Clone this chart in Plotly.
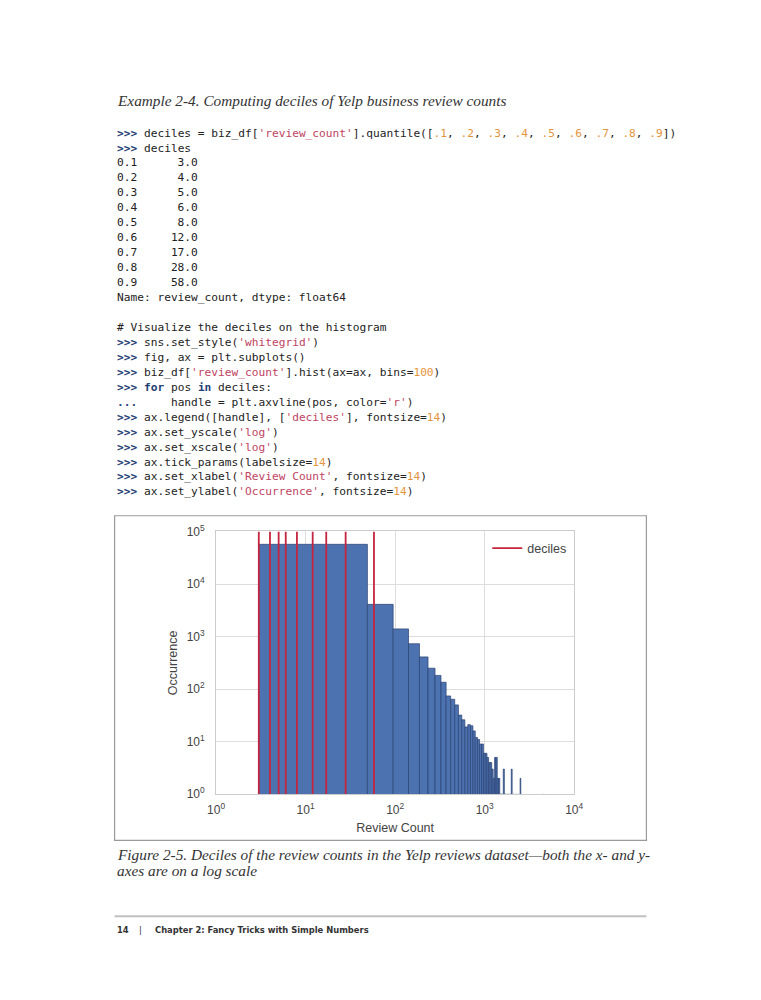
import numpy as np
import plotly.graph_objects as go

# --- data ---------------------------------------------------------------
# histogram of biz_df['review_count'] with bins=100 (linear bins from min to max)
review_min = 3
review_max = 4603
bin_counts = [
    57000, 4100, 1400, 730, 410, 250, 182, 135, 74, 64,
    50, 32, 26, 19, 21, 20, 16, 12, 11, 9,
    9, 6, 6, 5, 4, 4, 3, 2, 5, 5,
    2, 2, 1, 1, 1, 3, 1, 1, 0, 1,
    1, 0, 1, 3, 0, 1, 0, 0, 1, 0,
    0, 1, 0, 0, 2, 0, 0, 0, 0, 0,
    0, 0, 0, 0, 0, 0, 0, 0, 0, 0,
    0, 0, 0, 0, 0, 0, 0, 0, 0, 0,
    0, 0, 0, 0, 0, 0, 0, 0, 0, 0,
    0, 0, 0, 0, 0, 0, 0, 0, 0, 1,
]

decile_levels = [0.1, 0.2, 0.3, 0.4, 0.5, 0.6, 0.7, 0.8, 0.9]
deciles = [3.0, 4.0, 5.0, 6.0, 8.0, 12.0, 17.0, 28.0, 58.0]

x_tick_vals = [1, 10, 100, 1000, 10000]
x_tick_text = ['10<sup>0</sup>', '10<sup>1</sup>', '10<sup>2</sup>', '10<sup>3</sup>', '10<sup>4</sup>']
y_tick_vals = [1, 10, 100, 1000, 10000, 100000]
y_tick_text = ['10<sup>0</sup>', '10<sup>1</sup>', '10<sup>2</sup>', '10<sup>3</sup>',
               '10<sup>4</sup>', '10<sup>5</sup>']

# --- page geometry (pixels of the 761x1000 page) -------------------------
# the html body has an 8px margin, so the figure is a bit smaller and
# every page position is shifted by that margin
PAGE_W, PAGE_H = 761, 1000
MARGIN = 8
W, H = PAGE_W - 2 * MARGIN, PAGE_H - 2 * MARGIN
LEFT, RIGHT = 108, 653


def px(x):
    return (x - MARGIN) / W


def py(y):
    return 1 - (y - MARGIN) / H


# --- code listing -------------------------------------------------------
PROMPT = '#1f3f75'
STR = '#c04462'
NUM = '#e3953d'
TXT = '#222222'


def seg(text, color=TXT, bold=False):
    t = text.replace('&', '&amp;').replace('<', '&lt;').replace('>', '&gt;')
    t = t.replace(' ', '\u00a0')
    t = '<span style="color:%s">%s</span>' % (color, t)
    if bold:
        t = '<b>' + t + '</b>'
    return t


def line(*parts):
    return ''.join(seg(*p) if isinstance(p, tuple) else seg(p) for p in parts)


P = ('>>>', PROMPT, True)
code_lines = []
q = [P, " deciles = biz_df[", ("'review_count'", STR), "].quantile(["]
for i, lv in enumerate(decile_levels):
    q.append(('.%d' % round(lv * 10), NUM))
    if i < len(decile_levels) - 1:
        q.append(', ')
q.append('])')
code_lines.append(line(*q))
code_lines.append(line(P, ' deciles'))
for lv, d in zip(decile_levels, deciles):
    code_lines.append(line('%.1f  %7.1f' % (lv, d)))
code_lines.append(line('Name: review_count, dtype: float64'))
code_lines.append('')
code_lines.append(line('# Visualize the deciles on the histogram'))
code_lines.append(line(P, ' sns.set_style(', ("'whitegrid'", STR), ')'))
code_lines.append(line(P, ' fig, ax = plt.subplots()'))
code_lines.append(line(P, ' biz_df[', ("'review_count'", STR), '].hist(ax=ax, bins=',
                       ('100', NUM), ')'))
code_lines.append(line(P, ' ', ('for', PROMPT, True), ' pos ', ('in', PROMPT, True), ' deciles:'))
code_lines.append(line(('...', PROMPT, True), '     handle = plt.axvline(pos, color=', ("'r'", STR), ')'))
code_lines.append(line(P, ' ax.legend([handle], [', ("'deciles'", STR), '], fontsize=',
                       ('14', NUM), ')'))
code_lines.append(line(P, ' ax.set_yscale(', ("'log'", STR), ')'))
code_lines.append(line(P, ' ax.set_xscale(', ("'log'", STR), ')'))
code_lines.append(line(P, ' ax.tick_params(labelsize=', ('14', NUM), ')'))
code_lines.append(line(P, ' ax.set_xlabel(', ("'Review Count'", STR), ', fontsize=',
                       ('14', NUM), ')'))
code_lines.append(line(P, ' ax.set_ylabel(', ("'Occurrence'", STR), ', fontsize=',
                       ('14', NUM), ')'))

# --- figure -------------------------------------------------------------
edges = np.linspace(review_min, review_max, len(bin_counts) + 1)
centers = (edges[:-1] + edges[1:]) / 2
widths = np.diff(edges)

fig = go.Figure()
fig.add_trace(go.Bar(
    x=centers, y=bin_counts, width=widths,
    marker=dict(color='#4C72B0', line=dict(color='#2b4272', width=0.7)),
    showlegend=False,
))

vx, vy = [], []
for d in deciles:
    vx += [d, d, None]
    vy += [y_tick_vals[0], y_tick_vals[-1], None]
fig.add_trace(go.Scatter(
    x=vx, y=vy, mode='lines', name='deciles',
    line=dict(color='#c4263f', width=1.8),
))

sans = 'Liberation Sans, Arial, sans-serif'
axis_font = dict(family=sans, size=12, color='#444')
fig.update_xaxes(
    type='log', range=[0, 4], domain=[px(212), px(579)],
    tickvals=x_tick_vals, ticktext=x_tick_text, tickfont=axis_font,
    showgrid=True, gridcolor='#dddddd', gridwidth=1,
    showline=True, mirror=True, linecolor='#cccccc', linewidth=1,
    zeroline=False, ticks='', ticklabelstandoff=4,
    title=dict(text='Review Count', font=dict(family=sans, size=12.5, color='#444'), standoff=7),
)
fig.update_yaxes(
    type='log', range=[0, 5], domain=[py(798), py(531)],
    tickvals=y_tick_vals, ticktext=y_tick_text, tickfont=axis_font,
    showgrid=True, gridcolor='#dddddd', gridwidth=1,
    showline=True, mirror=True, linecolor='#cccccc', linewidth=1,
    zeroline=False, ticks='', ticklabelstandoff=8,
    title=dict(text='Occurrence', font=dict(family=sans, size=12.5, color='#444'), standoff=6),
)

annotations = []
serif_it = dict(family='Liberation Serif, serif', size=15.3, color='#333')
annotations.append(dict(text='<i>Example 2-4. Computing deciles of Yelp business review counts</i>',
                        x=px(LEFT), y=py(93), font=serif_it))
y0 = 126
for i, txt in enumerate(code_lines):
    if not txt:
        continue
    annotations.append(dict(text=txt, x=px(LEFT), y=py(y0 + 15.2 * i),
                            font=dict(family='DejaVu Sans Mono, monospace', size=11.2, color=TXT)))
annotations.append(dict(text='<i>Figure 2-5. Deciles of the review counts in the Yelp reviews '
                             'dataset\u2014both the x- and y-</i>',
                        x=px(LEFT), y=py(859), font=serif_it))
annotations.append(dict(text='<i>axes are on a log scale</i>', x=px(LEFT), y=py(876), font=serif_it))
foot_font = dict(family='Liberation Sans Narrow, DejaVu Sans Condensed, sans-serif', size=9.3, color='#333')
annotations.append(dict(text='<b>14</b>', x=px(LEFT), y=py(936), font=foot_font))
annotations.append(dict(text='|', x=px(131), y=py(936), font=foot_font))
annotations.append(dict(text='<b>Chapter 2: Fancy Tricks with Simple Numbers</b>',
                        x=px(147), y=py(936), font=foot_font))
for a in annotations:
    a.update(xref='paper', yref='paper', xanchor='left', yanchor='middle', showarrow=False)

fig.update_layout(
    width=W, height=H, margin=dict(l=0, r=0, t=0, b=0),
    paper_bgcolor='white', plot_bgcolor='white',
    annotations=annotations,
    shapes=[
        dict(type='rect', xref='paper', yref='paper', x0=px(LEFT), x1=px(RIGHT),
             y0=py(845), y1=py(515), line=dict(color='#9a9a9a', width=1.2)),
        dict(type='line', xref='paper', yref='paper', x0=px(LEFT), x1=px(RIGHT),
             y0=py(922), y1=py(922), line=dict(color='#c0c0c0', width=2)),
    ],
    legend=dict(x=px(576), y=py(533), xanchor='right', yanchor='top',
                bgcolor='rgba(0,0,0,0)',
                font=dict(family=sans, size=12.5, color='#444')),
    showlegend=True,
)

fig.write_html('out.html')
